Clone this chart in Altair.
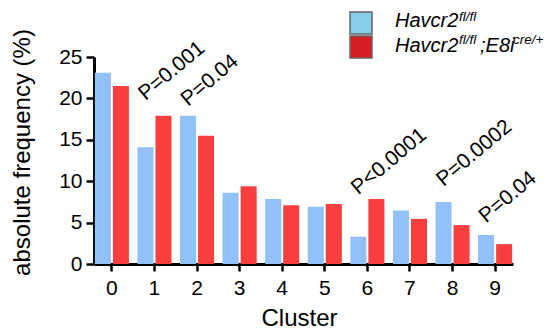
import altair as alt
import pandas as pd

clusters = ["0", "1", "2", "3", "4", "5", "6", "7", "8", "9"]
ctrl_freq = [23.1, 14.1, 17.9, 8.6, 7.85, 6.9, 3.3, 6.45, 7.5, 3.5]
ko_freq = [21.5, 17.9, 15.5, 9.4, 7.1, 7.25, 7.85, 5.45, 4.7, 2.4]
groups = ["Havcr2 fl/fl", "Havcr2 fl/fl;E8i cre/+"]
y_ticks = [0, 5, 10, 15, 20, 25]

p_clusters = ["1", "2", "6", "8", "9"]
p_labels = ["P=0.001", "P=0.04", "P<0.0001", "P=0.0002", "P=0.04"]
p_heights = [19.7, 19.0, 8.3, 9.3, 4.9]

bar_colors = ["#92C0F8", "#F9403F"]
legend_colors = ["#87CEEB", "#D71E24"]
FONT = "Liberation Sans"

df = pd.DataFrame({
    "cluster": clusters * 2,
    "group": [groups[0]] * len(clusters) + [groups[1]] * len(clusters),
    "freq": ctrl_freq + ko_freq,
})
ann = pd.DataFrame({"cluster": p_clusters, "freq": p_heights, "label": p_labels})
one = pd.DataFrame({"k": [0]})

x_enc = alt.X(
    "cluster:N", sort=clusters,
    scale=alt.Scale(paddingInner=0.2, paddingOuter=0.02),
    axis=alt.Axis(
        title="Cluster", labelAngle=0, labelFont=FONT, labelFontSize=21,
        labelColor="black", labelPadding=6, tickSize=7, tickWidth=2.5,
        tickColor="black", domainColor="black", domainWidth=3,
        titleFont=FONT, titleFontSize=24, titleFontWeight="normal",
        titleColor="black", titleX=205, titleY=42, titleBaseline="top",
    ),
)
y_enc = alt.Y(
    "freq:Q",
    scale=alt.Scale(domain=[0, 25], nice=False),
    axis=alt.Axis(
        title="absolute frequency (%)", values=y_ticks, grid=False,
        labelFont=FONT, labelFontSize=21, labelColor="black", labelPadding=4,
        tickSize=8, tickWidth=2.5, tickColor="black", domainColor="black",
        domainWidth=3, titleFont=FONT, titleFontSize=24,
        titleFontWeight="normal", titleColor="black", titleX=-60, titleY=95,
    ),
)

bars = alt.Chart(df).mark_bar().encode(
    x=x_enc,
    xOffset=alt.XOffset("group:N", sort=groups, scale=alt.Scale(paddingInner=0.111)),
    y=y_enc,
    color=alt.Color("group:N", scale=alt.Scale(domain=groups, range=bar_colors), legend=None),
)

annots = alt.Chart(ann).mark_text(
    angle=320, align="left", baseline="alphabetic", font=FONT,
    fontSize=21, color="black", xOffset=-9,
).encode(x=x_enc, y=y_enc, text="label:N")

def swatch(color, y0, y1):
    return alt.Chart(one).mark_rect(stroke="#666666", strokeWidth=1.5, fill=color).encode(
        x=alt.value(256), x2=alt.value(278), y=alt.value(y0), y2=alt.value(y1)
    )

def txt(s, xx, yy, size):
    return alt.Chart(one).mark_text(
        align="left", baseline="alphabetic", font=FONT, fontSize=size,
        fontStyle="italic", color="black",
    ).encode(x=alt.value(xx), y=alt.value(yy), text=alt.value(s))

legend_layers = [
    swatch(legend_colors[0], -45, -23),
    swatch(legend_colors[1], -21, 1),
    txt("Havcr2", 301, -30, 20),
    txt("fl/fl", 365, -36, 13.5),
    txt("Havcr2", 301, -5, 20),
    txt("fl/fl", 365, -13, 13.5),
    txt(";E8i", 386, -5, 20),
    txt("cre/+", 419, -13, 13.5),
]

chart = alt.layer(bars, annots, *legend_layers).properties(
    width=419, height=207,
    autosize=alt.AutoSizeParams(type="none"),
    padding={"left": 86, "top": 49, "right": 31, "bottom": 71},
).configure_view(stroke=None)

chart.save("out.html", embed_options={"renderer": "svg", "actions": False})
